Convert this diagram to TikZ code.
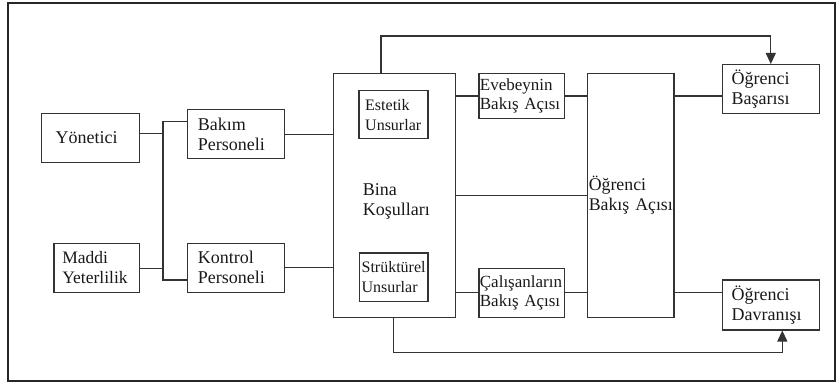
\documentclass[tikz,border=0pt]{standalone}
\usepackage{fontspec}
\setmainfont{Liberation Serif}
\usetikzlibrary{arrows.meta,calc}

\begin{document}
\begin{tikzpicture}[x=1pt,y=-1pt,
  ln/.style={draw=black!80, line width=1.2pt},
  bx/.style={ln, rectangle, anchor=north west, align=left, inner ysep=0pt,
    text=black!90, font=\fontsize{18}{20}\selectfont},
  smalltxt/.style={font=\fontsize{16}{20}\selectfont},
  midtxt/.style={font=\fontsize{17}{18.5}\selectfont},
  tip/.style={-{Triangle[width=10pt,length=11pt]}}
]
\useasboundingbox (0,0) rectangle (838,382);
% outer frame
\draw[draw=black!85, line width=2pt] (8,3.5) rectangle (835,381);

% left column
\node[bx, minimum width=97.7pt, minimum height=49pt, text width=69.7pt, inner xsep=14pt] (yon) at (41,112.7) {Yönetici};
\node[bx, font=\fontsize{17.5}{20}\selectfont, minimum width=85.4pt, minimum height=49pt, text width=68.6pt, inner xsep=8.4pt] (mad) at (53.3,242.7) {Maddi\\Yeterlilik};
\node[bx, minimum width=97.3pt, minimum height=49pt, text width=76.1pt, inner xsep=10.6pt] (bak) at (186.7,109.3) {Bakım\\Personeli};
\node[bx, minimum width=97.3pt, minimum height=49pt, text width=76.1pt, inner xsep=10.6pt] (kon) at (186.7,242.7) {Kontrol\\Personeli};

% building conditions
\node[ln, rectangle, anchor=north west, minimum width=122.5pt, minimum height=244pt, inner sep=0pt] (bina) at (332.5,72.7) {};
\node[bx, smalltxt, minimum width=69pt, minimum height=48.3pt, text width=56.4pt, inner xsep=6.3pt] (est) at (358.3,90) {Estetik\\Unsurlar};
\node[bx, smalltxt, minimum width=68.3pt, minimum height=48.7pt, text width=64.3pt, inner xsep=2pt] (str) at (359,252.3) {Strüktürel\\Unsurlar};
\node[anchor=west, align=left, inner sep=0pt, text=black!90, font=\fontsize{18}{20}\selectfont] (binatxt) at (362.7,201) {Bina\\Koşulları};

% perspectives
\node[bx, midtxt, minimum width=85.7pt, minimum height=45.3pt, text width=83.7pt, inner xsep=1pt] (eve) at (478.3,72.7) {Evebeynin\\Bakış~Açısı};
\node[bx, midtxt, minimum width=85.7pt, minimum height=49.2pt, text width=83.7pt, inner xsep=1pt] (cal) at (478.3,267.5) {Çalışanların\\Bakış~Açısı};
\node[bx, font=\fontsize{17.8}{20}\selectfont, minimum width=86.3pt, minimum height=244pt, text width=83.9pt, inner xsep=1.2pt] (oba) at (587,72.7) {Öğrenci\\Bakış~Açısı};

% outcomes
\node[bx, minimum width=97pt, minimum height=49.3pt, text width=78.4pt, inner xsep=9.3pt] (bas) at (721.7,64) {Öğrenci\\Başarısı};
\node[bx, minimum width=97pt, minimum height=50pt, text width=78.4pt, inner xsep=9.3pt] (dav) at (721.7,279.3) {Öğrenci\\Davranışı};

% junction between the left columns
\coordinate (jt) at (163,121.3);
\coordinate (jb) at (163,280);
\coordinate (jy) at (163,133.3);
\coordinate (jm) at (163,268.3);
\draw[ln] (bak.west |- jt) -- (jt) -- (jb) -- (kon.west |- jb);
\draw[ln] (yon.east |- jy) -- (jy);
\draw[ln] (mad.east |- jm) -- (jm);

% staff to building
\draw[ln] (bak.east) -- (bak.east -| bina.west);
\draw[ln] (kon.east) -- (kon.east -| bina.west);

% building to perspectives
\draw[ln] (eve.west -| bina.east) -- (eve.west);
\draw[ln] (eve.east) -- (eve.east -| oba.west);
\draw[ln] (oba.west -| bina.east) -- (oba.west);
\draw[ln] (cal.west -| bina.east) -- (cal.west);
\draw[ln] (cal.east) -- (cal.east -| oba.west);

% student perspective to outcomes
\draw[ln] (oba.east |- eve.east) -- (bas.west |- eve.east);
\draw[ln] (oba.east |- cal.east) -- (dav.west |- cal.east);

% direct links from the building
\coordinate (ta) at (381,36);
\draw[ln, tip] (bina.north -| ta) -- (ta) -- (ta -| bas.north) -- (bas.north);
\coordinate (ba) at (393.3,352.7);
\coordinate (bd) at (782.3,352.7);
\draw[ln, tip] (bina.south -| ba) -- (ba) -- (bd) -- (bd |- dav.south);
\end{tikzpicture}
\end{document}
